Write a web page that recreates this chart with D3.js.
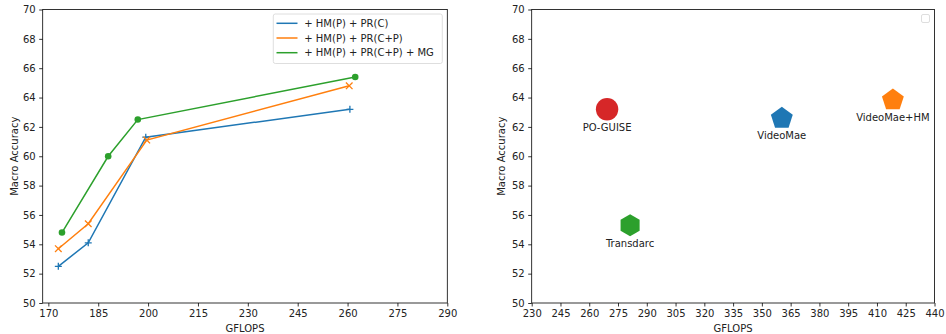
<!DOCTYPE html>
<html><head><meta charset="utf-8">
<script src="https://cdn.jsdelivr.net/npm/d3@7"></script>
<style>body{margin:0;background:#fff}text{font-family:"DejaVu Sans",sans-serif;fill:#222}</style>
</head><body><svg id="c" width="946" height="334"></svg>
<script>
// Left chart data
const seriesNames = ["+ HM(P) + PR(C)", "+ HM(P) + PR(C+P)", "+ HM(P) + PR(C+P) + MG"];
const seriesColors = ["#1f77b4", "#ff7f0e", "#2ca02c"];
const seriesMarkers = ["plus", "cross", "circle"];
const gflopsC = [173.0, 182.0, 199.3, 260.7];
const accC = [52.5, 54.1, 61.3, 63.2];
const gflopsCP = [173.0, 182.0, 199.6, 260.5];
const accCP = [53.7, 55.4, 61.1, 64.8];
const gflopsMG = [174.1, 188.0, 196.9, 262.3];
const accMG = [54.8, 60.0, 62.5, 65.4];
const leftXTicks = [170, 185, 200, 215, 230, 245, 260, 275, 290];
const yTicks = [50, 52, 54, 56, 58, 60, 62, 64, 66, 68, 70];
// Right chart data
const methods = ["PO-GUISE", "Transdarc", "VideoMae", "VideoMae+HM"];
const methodGflops = [269.3, 281.3, 360.4, 418.3];
const methodAcc = [63.2, 55.3, 62.65, 63.9];
const methodColors = ["#d62728", "#2ca02c", "#1f77b4", "#ff7f0e"];
const methodShapes = ["circle", "hexagon", "pentagon", "pentagon"];
const rightXTicks = [230, 245, 260, 275, 290, 305, 320, 335, 350, 365, 380, 395, 410, 425, 440];

const svg = d3.select("#c");
const plotTop = 9.5, plotBottom = 303;

function axes(g, x, y, xt, yt, xl, yl) {
  const ax = g.append("g").attr("transform", `translate(0,${plotBottom})`)
    .call(d3.axisBottom(x).tickValues(xt).tickSize(3.5).tickPadding(3.5).tickFormat(d3.format("d")));
  const ay = g.append("g").attr("transform", `translate(${x.range()[0]},0)`)
    .call(d3.axisLeft(y).tickValues(yt).tickSize(3.5).tickPadding(3.5).tickFormat(d3.format("d")));
  [ax, ay].forEach(a => {
    a.selectAll("text").style("font-size", "10px").style("fill", "#222").attr("font-family", "DejaVu Sans");
    a.selectAll("line").attr("stroke", "#000").attr("stroke-width", 0.8);
    a.select(".domain").remove();
  });
  g.append("rect").attr("x", x.range()[0]).attr("y", plotTop)
    .attr("width", x.range()[1] - x.range()[0]).attr("height", plotBottom - plotTop)
    .attr("fill", "none").attr("stroke", "#000").attr("stroke-width", 0.8);
  g.append("text").attr("x", (x.range()[0] + x.range()[1]) / 2).attr("y", 332)
    .attr("text-anchor", "middle").style("font-size", "10px").text(xl);
  g.append("text").attr("transform", `translate(${yl},${(plotTop + plotBottom) / 2}) rotate(-90)`)
    .attr("text-anchor", "middle").attr("dy", "0.35em").style("font-size", "10px").text("Macro Accuracy");
}

// Left
const xL = d3.scaleLinear().domain([168.3, 290]).range([42.7, 447.3]);
const yS = d3.scaleLinear().domain([50, 70]).range([plotBottom, plotTop]);
const gL = svg.append("g");
axes(gL, xL, yS, leftXTicks, yTicks, "GFLOPS", 14);
const sData = [[gflopsC, accC], [gflopsCP, accCP], [gflopsMG, accMG]];
const line = d3.line().x(d => xL(d[0])).y(d => yS(d[1]));
sData.forEach((s, i) => {
  const pts = s[0].map((v, j) => [v, s[1][j]]);
  gL.append("path").datum(pts).attr("d", line).attr("fill", "none")
    .attr("stroke", seriesColors[i]).attr("stroke-width", 1.5);
  pts.forEach(p => {
    const cx = xL(p[0]), cy = yS(p[1]);
    if (seriesMarkers[i] === "circle") {
      gL.append("circle").attr("cx", cx).attr("cy", cy).attr("r", 3.3).attr("fill", seriesColors[i]);
    } else if (seriesMarkers[i] === "plus") {
      gL.append("path").attr("d", `M${cx - 3.5},${cy}H${cx + 3.5}M${cx},${cy - 3.5}V${cy + 3.5}`)
        .attr("stroke", seriesColors[i]).attr("stroke-width", 1.3);
    } else {
      gL.append("path").attr("d", `M${cx - 3.3},${cy - 3.3}L${cx + 3.3},${cy + 3.3}M${cx - 3.3},${cy + 3.3}L${cx + 3.3},${cy - 3.3}`)
        .attr("stroke", seriesColors[i]).attr("stroke-width", 1.3);
    }
  });
});
// Legend
const lg = gL.append("g");
lg.append("rect").attr("x", 273.3).attr("y", 14).attr("width", 169).attr("height", 49.5).attr("rx", 2)
  .attr("fill", "#fff").attr("fill-opacity", 0.8).attr("stroke", "#d6d6d6").attr("stroke-width", 0.8);
seriesNames.forEach((n, i) => {
  const yy = 23.3 + i * 14.7;
  lg.append("line").attr("x1", 276.5).attr("x2", 297.5).attr("y1", yy).attr("y2", yy)
    .attr("stroke", seriesColors[i]).attr("stroke-width", 1.5);
  lg.append("text").attr("x", 304.3).attr("y", yy).attr("dy", "0.35em").style("font-size", "10px").text(n);
});

// Right
const xR = d3.scaleLinear().domain([230, 440]).range([531.7, 934.5]);
const gR = svg.append("g");
axes(gR, xR, yS, rightXTicks, yTicks, "GFLOPS", 501);
function poly(n, r, rot) {
  return d3.range(n).map(k => {
    const a = rot + k * 2 * Math.PI / n;
    return [r * Math.sin(a), -r * Math.cos(a)];
  });
}
methods.forEach((m, i) => {
  const cx = xR(methodGflops[i]), cy = yS(methodAcc[i]);
  if (methodShapes[i] === "circle") {
    gR.append("circle").attr("cx", cx).attr("cy", cy).attr("r", 11.2).attr("fill", methodColors[i]);
  } else {
    const pts = methodShapes[i] === "hexagon" ? poly(6, 11, 0) : poly(5, 11.5, 0);
    gR.append("path").attr("d", "M" + pts.map(p => [cx + p[0], cy + p[1] + (methodShapes[i] === "pentagon" ? 1 : 0)].join(",")).join("L") + "Z")
      .attr("fill", methodColors[i]);
  }
  gR.append("text").attr("x", cx).attr("y", cy + 18.3).attr("dy", "0.35em")
    .attr("text-anchor", "middle").style("font-size", "10px").text(m);
});
gR.append("rect").attr("x", 921.5).attr("y", 14.5).attr("width", 8).attr("height", 8).attr("rx", 1.5)
  .attr("fill", "#fff").attr("stroke", "#d6d6d6").attr("stroke-width", 0.8);
</script></body></html>
